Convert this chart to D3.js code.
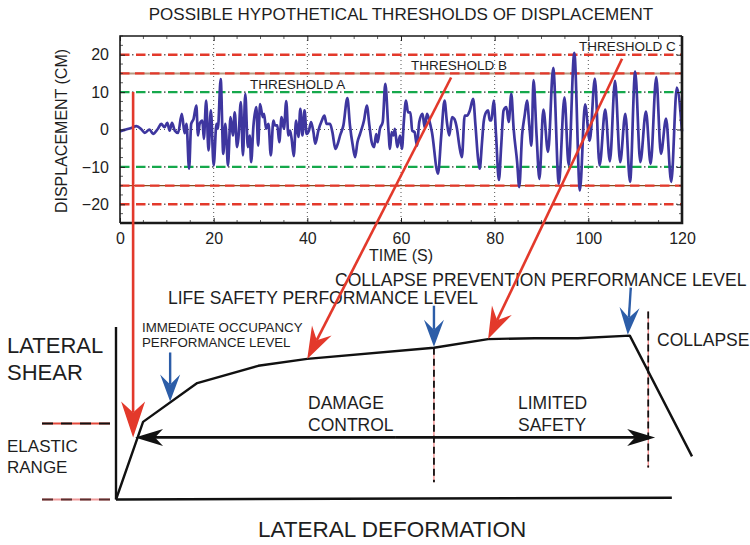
<!DOCTYPE html>
<html>
<head>
<meta charset="utf-8">
<script src="https://cdn.jsdelivr.net/npm/d3@7"></script>
<style>
  html, body { margin: 0; padding: 0; background: #fff; }
  svg { display: block; }
  text { font-family: "Liberation Sans", Arial, Helvetica, sans-serif; fill: #1e1e1e; }
</style>
</head>
<body>
<svg id="fig" width="750" height="545"></svg>
<script>
// ---- displacement record (time in s, displacement in cm) ----
const timeS = [
  0, 1.0, 2.4, 3.5, 4.6, 5.3, 6.3, 7.05, 8.1, 8.8, 9.5, 10.1, 10.6, 11.1, 11.7, 12.4,
  13.2, 13.8, 14.2, 14.75, 15.2, 15.7, 16.3, 16.65, 17.0, 17.6, 17.9, 18.4, 18.9, 19.4, 20.0,
  20.6, 20.9, 21.5, 22.05, 22.5, 22.7, 23.05, 23.6, 24.1, 24.5, 25.0, 25.3, 25.8, 26.25,
  26.75, 27.3, 27.7, 28.0, 28.5, 29.1, 29.5, 29.9, 30.5, 30.75, 31.2, 31.7, 32.2, 32.75,
  33.1, 33.6, 34.0, 34.5, 35.0, 35.5, 35.95, 36.3, 36.65, 37.1, 37.6, 38.1, 38.5, 38.95,
  39.4, 39.85, 40.35, 40.8, 41.3, 41.7, 42.35, 43.1, 43.65, 44.1, 44.85, 45.35, 46.0, 46.5,
  47.0, 47.7, 48.55, 49.1, 49.7, 50.2, 50.7, 51.25, 52.1, 52.7, 53.25, 53.75, 54.25, 54.7,
  55.0, 55.5, 56.1, 56.65, 57.3, 57.65, 58.0, 58.4, 58.7, 59.2, 59.8, 60.2, 60.6, 61.07,
  61.5, 62.0, 62.4, 62.9, 63.4, 63.9, 64.6, 65.05, 65.55, 66.05, 66.6, 67.9, 68.6, 69.3,
  69.8, 70.3, 70.9, 71.4, 71.95, 72.45, 73.0, 73.6, 74.1, 74.7, 75.4, 75.9, 76.45, 76.8,
  77.3, 77.65, 78.15, 78.6, 78.95, 79.3, 79.8, 80.3, 80.9, 81.4, 81.9, 82.5, 83.0, 83.55,
  84.05, 84.8, 85.25, 85.85, 86.4, 86.9, 87.4, 87.85, 88.3, 88.95, 89.55, 90.4, 91.4, 92.5,
  93.7, 94.9, 95.8, 97.0, 98.2, 99.3, 100.3, 101.4, 102.4, 103.6, 104.6, 105.7, 106.8,
  107.9, 108.9, 110.0, 111.1, 112.3, 113.3, 114.5, 115.5, 116.6, 117.7, 118.9, 120
];
const displacementCm = [
  -0.5, -0.1, 0.4, 0.9, 0.0, -0.9, 0.0, -1.2, 0.2, 1.5, 0.6, 1.8, -0.3, 1.8, -0.3, -0.9,
  4.2, -1.0, 1.5, -10.5, 1.5, 2.8, 6.4, -1.6, 1.5, 2.4, -2.5, 7.7, -5.6, 5.1, -9.6,
  1.5, 0.2, 13.5, -6.5, 1.5, -1.6, -9.6, 3.3, -1.6, 4.6, -4.7, -2.0, 7.3, -6.9,
  9.5, -4.7, -1.6, -8.7, 1.1, 6.0, -4.3, 6.8, 3.3, 4.2, 0.2, 1.5, -6.9, 2.4,
  1.1, 1.1, -3.4, 3.3, 0.2, 7.6, -1.6, -0.3, -2.5, -7.1, 2.4, -2.0, 5.5, -1.6,
  5.1, -1.2, -0.3, 2.0, -0.7, -3.8, -0.3, 2.4, 3.7, 1.5, 1.5, -0.7, -5.2, -3.8,
  -1.6, 1.1, 8.4, 1.1, -4.3, -7.4, -3.4, -1.2, 2.4, 6.4, 1.1, -3.4, -4.7, -1.2,
  -3.4, 0.2, 2.0, 12.2, 0.2, -5.2, -0.7, -1.6, 0.2, -4.7, -1.6, -5.2, 2.0, 7.7,
  4.6, 4.6, -0.3, -0.7, -4.3, 2.0, 4.2, 0.6, 4.2, 2.4, -0.7, -11.8, -1.6, 7.7,
  2.0, -1.6, 3.3, 2.8, 0.2, -4.3, -7.4, 3.7, 3.7, 5.1, 8.2, 1.1, -7.8, -10.5,
  -3.4, 2.0, 4.6, 5.1, 2.4, 2.4, 7.7, -1.6, -13.5, -4.3, 5.1, 6.0, 2.0, 9.5,
  0.2, -8.7, -15.4, -1.6, 3.7, 7.7, 1.1, -4.3, 13.2, -1.6, -13.2, 5.3, -6.0, 16.5,
  -14.5, 8.6, -9.5, 20.5, -16.3, 6.7, -3.0, 13.6, -9.6, 5.3, -8.5, 13.0, -8.7,
  4.2, -14.0, 15.5, -8.7, 4.8, -9.2, 14.0, -6.5, 2.9, -14.0, 11.2, -0.5
];
const timeTicks = [0, 20, 40, 60, 80, 100, 120];
const dispTicks = [-20, -10, 0, 10, 20];
const thresholdLevels = [10, 15, 20];            // A, B, C (cm)
const thresholdNames = ["THRESHOLD A", "THRESHOLD B", "THRESHOLD C"];

// ---- capacity (pushover) curve, normalised drift / shear units ----
const pushoverDrift = [0, 0.47, 1.41, 2.47, 3.32, 5.52, 6.46, 7.27, 8.02, 8.92, 10];
const pushoverShear = [0, 4.5, 6.75, 7.75, 8.15, 8.8, 9.3, 9.35, 9.35, 9.5, 2.5];
const levelDrift = [0.94, 5.52, 8.92];          // IO, LS, CP performance points
const collapseDrift = 9.24;
const elasticShear = [4.4, 0];
const rangeArrowShear = 3.6;
const rangeArrowDrift = [0.33, 9.36];
const redArrowStarts = [[2.8, 10], [70.7, 13.9], [107.2, 18.9]];  // (s, cm) on the record
const redArrowTargets = [null, 4, 6];                                // pushover vertex index

const svg = d3.select("#fig");
svg.append("rect").attr("width", 750).attr("height", 545).attr("fill", "#fff");

const RED = "#e3392b", GREEN = "#15a84b", BLUE = "#2c5da8", SERIES = "#3e369f";

// ================= upper panel: displacement history =================
const x = d3.scaleLinear().domain([0, 120]).range([120, 682]);
const y = d3.scaleLinear().domain([-25, 25]).range([223, 36]);
const hist = svg.append("g");

// dotted grid
hist.append("g").selectAll("line").data(timeTicks.slice(1, -1)).join("line")
  .attr("x1", d => x(d)).attr("x2", d => x(d)).attr("y1", y(25)).attr("y2", y(-25))
  .attr("stroke", "#555").attr("stroke-width", 1).attr("stroke-dasharray", "1,3");
hist.append("g").selectAll("line").data([0]).join("line")
  .attr("x1", x(0)).attr("x2", x(120)).attr("y1", d => y(d)).attr("y2", d => y(d))
  .attr("stroke", "#555").attr("stroke-width", 1).attr("stroke-dasharray", "1,3");

// threshold lines
const thr = hist.append("g");
[thresholdLevels[1], -thresholdLevels[1]].forEach((v, i) => {
  thr.append("line").attr("x1", x(0)).attr("x2", x(120)).attr("y1", y(v)).attr("y2", y(v))
    .attr("stroke", i === 0 ? "#b59a82" : "#8a4a1c").attr("stroke-width", i === 0 ? 2 : 1.3);
  thr.append("line").attr("x1", x(0)).attr("x2", x(120)).attr("y1", y(v)).attr("y2", y(v))
    .attr("stroke", RED).attr("stroke-width", 2.4).attr("stroke-dasharray", "9.5,5.5");
});
[thresholdLevels[0], -thresholdLevels[0], thresholdLevels[2], -thresholdLevels[2]].forEach(v => {
  const c = Math.abs(v) === thresholdLevels[0] ? GREEN : RED;
  thr.append("line").attr("x1", x(0)).attr("x2", x(120)).attr("y1", y(v)).attr("y2", y(v))
    .attr("stroke", c).attr("stroke-width", 2.4).attr("stroke-dasharray", "9.5,6.5");
  thr.append("line").attr("x1", x(0)).attr("x2", x(120)).attr("y1", y(v)).attr("y2", y(v))
    .attr("stroke", "#666").attr("stroke-width", 1.6).attr("stroke-dasharray", "1.5,14.5")
    .attr("stroke-dashoffset", 4);
});

// displacement trace
const series = timeS.map((t, i) => [t, displacementCm[i]]);
hist.append("path").datum(series)
  .attr("d", d3.line().x(d => x(d[0])).y(d => y(d[1])).curve(d3.curveMonotoneX))
  .attr("fill", "none").attr("stroke", SERIES).attr("stroke-width", 2.7)
  .attr("stroke-linejoin", "round");

// axes with inward ticks
const gx = hist.append("g").attr("transform", `translate(0,${y(-25)})`)
  .call(d3.axisBottom(x).tickValues(timeTicks).tickSizeInner(-5).tickSizeOuter(0).tickPadding(10));
const gy = hist.append("g").attr("transform", `translate(${x(0)},0)`)
  .call(d3.axisLeft(y).tickValues(dispTicks).tickSizeInner(-5).tickSizeOuter(0).tickPadding(11));
const gx2 = hist.append("g").attr("transform", `translate(0,${y(25)})`)
  .call(d3.axisTop(x).tickValues(timeTicks).tickSizeInner(-5).tickSizeOuter(0).tickFormat(""));
const gy2 = hist.append("g").attr("transform", `translate(${x(120)},0)`)
  .call(d3.axisRight(y).tickValues(dispTicks).tickSizeInner(-5).tickSizeOuter(0).tickFormat(""));
[gx, gy, gx2, gy2].forEach(g => {
  g.select(".domain").remove();
  g.selectAll(".tick line").attr("stroke", "#222").attr("stroke-width", 1);
  g.selectAll(".tick text").attr("font-size", 16).attr("fill", "#1e1e1e")
    .attr("font-family", '"Liberation Sans", Arial, sans-serif');
});

// minor ticks
const minorX = d3.range(0, 121, 5).filter(d => d % 20 !== 0);
const minorY = d3.range(-25, 25.1, 2.5).filter(d => d % 10 !== 0);
const mt = hist.append("g").attr("stroke", "#333").attr("stroke-width", 0.8);
minorX.forEach(d => {
  mt.append("line").attr("x1", x(d)).attr("x2", x(d)).attr("y1", y(-25)).attr("y2", y(-25) - 3);
  mt.append("line").attr("x1", x(d)).attr("x2", x(d)).attr("y1", y(25)).attr("y2", y(25) + 3);
});
minorY.forEach(d => {
  mt.append("line").attr("x1", x(0)).attr("x2", x(0) + 3).attr("y1", y(d)).attr("y2", y(d));
  mt.append("line").attr("x1", x(120)).attr("x2", x(120) - 3).attr("y1", y(d)).attr("y2", y(d));
});

// frame
hist.append("path")
  .attr("d", `M${x(0)},${y(-25)}V${y(25)}H${x(120)}`)
  .attr("fill", "none").attr("stroke", "#1a1a1a").attr("stroke-width", 1.6);
hist.append("path")
  .attr("d", `M${x(0)},${y(-25)}H${x(120)}V${y(25)}`)
  .attr("fill", "none").attr("stroke", "#1a1a1a").attr("stroke-width", 2.6);

// titles
hist.append("text").attr("x", 401).attr("y", 20).attr("text-anchor", "middle")
  .attr("font-size", 17).text("POSSIBLE HYPOTHETICAL THRESHOLDS OF DISPLACEMENT");
hist.append("text").attr("x", 401).attr("y", 261).attr("text-anchor", "middle")
  .attr("font-size", 16).text("TIME (S)");
hist.append("text").attr("transform", "translate(67,131) rotate(-90)").attr("text-anchor", "middle")
  .attr("font-size", 16).text("DISPLACEMENT (CM)");

// threshold names
const nameAnchors = [[250, 89], [411, 70], [579, 51]];
thresholdNames.forEach((s, i) => {
  hist.append("text").attr("x", nameAnchors[i][0]).attr("y", nameAnchors[i][1])
    .attr("font-size", 13.5).text(s);
});

// ================= lower panel: capacity curve =================
const dx = d3.scaleLinear().domain([0, 10]).range([116, 692]);
const sy = d3.scaleLinear().domain([0, 10]).range([499.5, 327]);
const cap = svg.append("g");

const curvePts = pushoverDrift.map((d, i) => [d, pushoverShear[i]]);
const shearAt = d => {
  for (let i = 1; i < curvePts.length; i++) {
    if (d <= curvePts[i][0]) {
      const [d0, s0] = curvePts[i - 1], [d1, s1] = curvePts[i];
      return s0 + (s1 - s0) * (d - d0) / (d1 - d0);
    }
  }
  return curvePts[curvePts.length - 1][1];
};

// axes
cap.append("line").attr("x1", dx(0)).attr("x2", dx(0)).attr("y1", sy(0)).attr("y2", sy(10))
  .attr("stroke", "#111").attr("stroke-width", 2.4);
cap.append("line").attr("x1", dx(0)).attr("x2", dx(9.65)).attr("y1", sy(0)).attr("y2", sy(0.1))
  .attr("stroke", "#111").attr("stroke-width", 2.4);

// elastic range markers
elasticShear.forEach((s, i) => {
  cap.append("line").attr("x1", 42).attr("x2", 110).attr("y1", sy(s)).attr("y2", sy(s))
    .attr("stroke", i === 0 ? "#e34a3c" : "#f09a9a").attr("stroke-width", 2);
  cap.append("line").attr("x1", 42).attr("x2", 110).attr("y1", sy(s)).attr("y2", sy(s))
    .attr("stroke", i === 0 ? "#111" : "#5a3030").attr("stroke-width", 2)
    .attr("stroke-dasharray", "11,8");
});

// dashed limit lines (LS and collapse)
const limitLines = [[levelDrift[1], shearAt(levelDrift[1]), 1.0], [collapseDrift, 10.9, 1.85]];
limitLines.forEach(([d, s0, s1]) => {
  cap.append("line").attr("x1", dx(d)).attr("x2", dx(d)).attr("y1", sy(s0)).attr("y2", sy(s1))
    .attr("stroke", "#e66").attr("stroke-width", 1);
  cap.append("line").attr("x1", dx(d)).attr("x2", dx(d)).attr("y1", sy(s0)).attr("y2", sy(s1))
    .attr("stroke", "#111").attr("stroke-width", 1.8).attr("stroke-dasharray", "7,4");
});

// capacity curve
cap.append("path").datum(curvePts)
  .attr("d", d3.line().x(d => dx(d[0])).y(d => sy(d[1])))
  .attr("fill", "none").attr("stroke", "#111").attr("stroke-width", 2.4)
  .attr("stroke-linejoin", "round");

// arrow helper: concave head with shaft ending at the notch
function arrow(g, from, tip, L, W, N, color, sw) {
  const vx = tip[0] - from[0], vy = tip[1] - from[1];
  const len = Math.hypot(vx, vy), ux = vx / len, uy = vy / len, px = -uy, py = ux;
  const bx = tip[0] - L * ux, by = tip[1] - L * uy;
  const nx = tip[0] - (L - N) * ux, ny = tip[1] - (L - N) * uy;
  g.append("line").attr("x1", from[0]).attr("y1", from[1]).attr("x2", nx).attr("y2", ny)
    .attr("stroke", color).attr("stroke-width", sw);
  g.append("path")
    .attr("d", `M${tip[0]},${tip[1]}L${bx + W * px},${by + W * py}L${nx},${ny}L${bx - W * px},${by - W * py}Z`)
    .attr("fill", color);
}

// damage control / limited safety range arrow
const ra = [dx(rangeArrowDrift[0]), sy(rangeArrowShear)], rb = [dx(rangeArrowDrift[1]), sy(rangeArrowShear)];
const mid = [(ra[0] + rb[0]) / 2, ra[1]];
arrow(cap, mid, ra, 28, 8.5, 8, "#111", 2.6);
arrow(cap, mid, rb, 28, 8.5, 8, "#111", 2.6);

// blue performance-level arrows
const blueLen = [49, 41, 47], blueLean = [0, 0, 3];
levelDrift.forEach((d, i) => {
  const tip = [dx(d) - (i === 2 ? 2 : 0), sy(shearAt(d)) - 1];
  arrow(cap, [tip[0] + blueLean[i], tip[1] - blueLen[i]], tip, 27, 10, 10, BLUE, 2.4);
});

// lower panel labels
const lab = (t, xx, yy, fs) => cap.append("text").attr("x", xx).attr("y", yy).attr("font-size", fs).text(t);
lab("LATERAL", 7, 353, 22);
lab("SHEAR", 7, 380, 22);
lab("ELASTIC", 7, 452, 17);
lab("RANGE", 7, 473, 17);
lab("IMMEDIATE OCCUPANCY", 142, 332, 13.3);
lab("PERFORMANCE LEVEL", 142, 347, 13.3);
lab("LIFE SAFETY PERFORMANCE LEVEL", 168, 304, 17.5);
lab("COLLAPSE PREVENTION PERFORMANCE LEVEL", 335, 286, 17.5);
lab("COLLAPSE", 657, 346, 17.5);
lab("DAMAGE", 308, 409, 17.5);
lab("CONTROL", 308, 431, 17.5);
lab("LIMITED", 518, 409, 17.5);
lab("SAFETY", 518, 431, 17.5);
lab("LATERAL DEFORMATION", 258, 537, 22.5);

// ================= red arrows linking thresholds to the curve =================
const over = svg.append("g");
redArrowStarts.forEach((p, i) => {
  const from = [x(p[0]), y(p[1])];
  const k = redArrowTargets[i];
  const tip = k === null ? [from[0], sy(rangeArrowShear)]
                         : [dx(pushoverDrift[k]), sy(pushoverShear[k])];
  arrow(over, from, tip, k === null ? 36 : 32, k === null ? 12 : 11, 11, RED, 2.6);
});
</script>
</body>
</html>
